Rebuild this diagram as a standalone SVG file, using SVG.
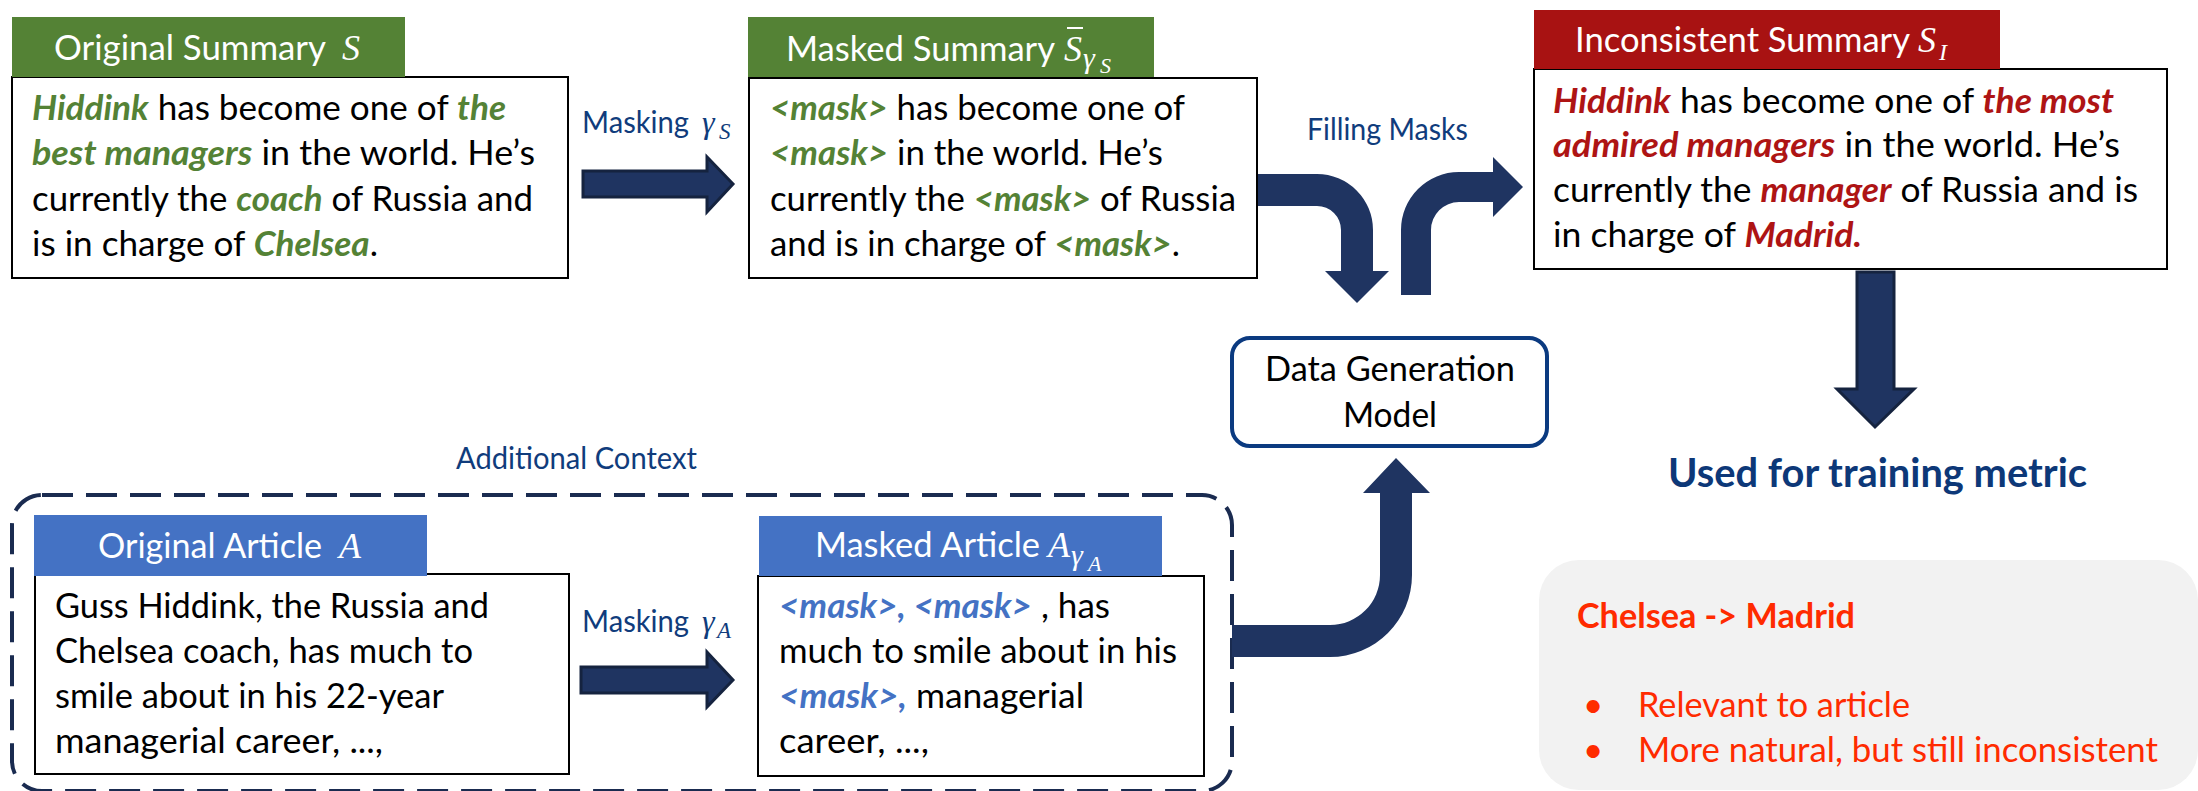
<svg xmlns="http://www.w3.org/2000/svg" width="2198" height="791" viewBox="0 0 2198 791">
<style>
.t{font-family:Lato,"Liberation Sans",sans-serif;font-size:35px;fill:#000}
.h{font-family:Lato,"Liberation Sans",sans-serif;font-size:35px;fill:#fff}
.bi{font-weight:bold;font-style:italic}
.g{fill:#548235}.r{fill:#AE1414}.bl{fill:#4472C4}
.m{font-family:"Liberation Serif","DejaVu Serif",serif;font-style:italic}
.lbl{font-family:Lato,"Liberation Sans",sans-serif;font-size:30px;fill:#103C7C}
.box{fill:#fff;stroke:#000;stroke-width:2}
.arr{fill:#1F3461;stroke:#15233F;stroke-width:3;stroke-linejoin:miter}
.carr{fill:#1F3461}
.note{font-family:Lato,"Liberation Sans",sans-serif;font-size:35px;fill:#FF2B00}
</style>
<rect width="2198" height="791" fill="#fff"/>
<g id="context">
<rect x="12" y="495" width="1220" height="296" rx="30" ry="30" fill="none" stroke="#1A2B50" stroke-width="4" stroke-dasharray="31 13"/>
<text class="lbl" x="456" y="469" textLength="241" lengthAdjust="spacingAndGlyphs">Additional Context</text>
</g>
<g id="original-summary">
<rect class="box" x="12" y="77" width="556" height="201"/>
<rect x="12" y="17" width="393" height="60" fill="#548235"/>
<text class="h" x="54" y="60" textLength="272" lengthAdjust="spacingAndGlyphs">Original Summary</text>
<text class="m" x="342" y="60" font-size="36" fill="#fff">S</text>
<text class="t" x="32" y="120" textLength="474" lengthAdjust="spacingAndGlyphs"><tspan class="bi g">Hiddink</tspan> has become one of <tspan class="bi g">the</tspan></text>
<text class="t" x="32" y="165" textLength="503" lengthAdjust="spacingAndGlyphs"><tspan class="bi g">best managers</tspan> in the world. He’s</text>
<text class="t" x="32" y="211" textLength="501" lengthAdjust="spacingAndGlyphs">currently the <tspan class="bi g">coach</tspan> of Russia and</text>
<text class="t" x="32" y="256" textLength="346" lengthAdjust="spacingAndGlyphs">is in charge of <tspan class="bi g">Chelsea</tspan>.</text>
</g>
<g id="masked-summary">
<rect class="box" x="749" y="78" width="508" height="200"/>
<rect x="748" y="17" width="406" height="60" fill="#548235"/>
<text class="h" x="786" y="61" textLength="269" lengthAdjust="spacingAndGlyphs">Masked Summary</text>
<text class="m" x="1064" y="61" font-size="36" fill="#fff">S</text>
<line x1="1067" y1="28" x2="1083" y2="28" stroke="#fff" stroke-width="2"/>
<text class="m" x="1083" y="68" font-size="30" fill="#fff">γ</text>
<text class="m" x="1100" y="73" font-size="22" fill="#fff">S</text>
<text class="t" x="770" y="120" textLength="415" lengthAdjust="spacingAndGlyphs"><tspan class="bi g">&lt;mask&gt;</tspan> has become one of</text>
<text class="t" x="770" y="165" textLength="393" lengthAdjust="spacingAndGlyphs"><tspan class="bi g">&lt;mask&gt;</tspan> in the world. He’s</text>
<text class="t" x="770" y="211" textLength="466" lengthAdjust="spacingAndGlyphs">currently the <tspan class="bi g">&lt;mask&gt;</tspan> of Russia</text>
<text class="t" x="770" y="256" textLength="410" lengthAdjust="spacingAndGlyphs">and is in charge of <tspan class="bi g">&lt;mask&gt;</tspan>.</text>
</g>
<g id="inconsistent-summary">
<rect class="box" x="1534" y="69" width="633" height="200"/>
<rect x="1534" y="10" width="466" height="59" fill="#A81212"/>
<text class="h" x="1575" y="52" textLength="335" lengthAdjust="spacingAndGlyphs">Inconsistent Summary</text>
<text class="m" x="1918" y="52" font-size="36" fill="#fff">S</text>
<text class="m" x="1939" y="60" font-size="24" fill="#fff">I</text>
<text class="t" x="1553" y="113" textLength="561" lengthAdjust="spacingAndGlyphs"><tspan class="bi r">Hiddink</tspan> has become one of <tspan class="bi r">the most</tspan></text>
<text class="t" x="1553" y="157" textLength="567" lengthAdjust="spacingAndGlyphs"><tspan class="bi r">admired managers</tspan> in the world. He’s</text>
<text class="t" x="1553" y="202" textLength="585" lengthAdjust="spacingAndGlyphs">currently the <tspan class="bi r">manager</tspan> of Russia and is</text>
<text class="t" x="1553" y="247" textLength="309" lengthAdjust="spacingAndGlyphs">in charge of <tspan class="bi r">Madrid.</tspan></text>
</g>
<g id="original-article">
<rect class="box" x="35" y="574" width="534" height="200"/>
<rect x="34" y="515" width="393" height="61" fill="#4472C4"/>
<text class="h" x="98" y="558" textLength="224" lengthAdjust="spacingAndGlyphs">Original Article</text>
<text class="m" x="339" y="558" font-size="36" fill="#fff">A</text>
<text class="t" x="55" y="618" textLength="434" lengthAdjust="spacingAndGlyphs">Guss Hiddink, the Russia and</text>
<text class="t" x="55" y="663" textLength="418" lengthAdjust="spacingAndGlyphs">Chelsea coach, has much to</text>
<text class="t" x="55" y="708" textLength="389" lengthAdjust="spacingAndGlyphs">smile about in his 22-year</text>
<text class="t" x="55" y="753" textLength="328" lengthAdjust="spacingAndGlyphs">managerial career, ...,</text>
</g>
<g id="masked-article">
<rect class="box" x="758" y="576" width="446" height="200"/>
<rect x="759" y="516" width="403" height="60" fill="#4472C4"/>
<text class="h" x="815" y="557" textLength="225" lengthAdjust="spacingAndGlyphs">Masked Article</text>
<text class="m" x="1048" y="557" font-size="36" fill="#fff">A</text>
<text class="m" x="1071" y="565" font-size="30" fill="#fff">γ</text>
<text class="m" x="1088" y="571" font-size="22" fill="#fff">A</text>
<text class="t" x="779" y="618" textLength="331" lengthAdjust="spacingAndGlyphs"><tspan class="bi bl">&lt;mask&gt;, &lt;mask&gt;</tspan> , has</text>
<text class="t" x="779" y="663" textLength="398" lengthAdjust="spacingAndGlyphs">much to smile about in his</text>
<text class="t" x="779" y="708" textLength="305" lengthAdjust="spacingAndGlyphs"><tspan class="bi bl">&lt;mask&gt;,</tspan> managerial</text>
<text class="t" x="779" y="753" textLength="150" lengthAdjust="spacingAndGlyphs">career, ...,</text>
</g>
<g id="data-generation-model">
<rect x="1232" y="338" width="315" height="108" rx="18" ry="18" fill="#fff" stroke="#0B3A80" stroke-width="4"/>
<text class="t" x="1390" y="381" text-anchor="middle" textLength="250" lengthAdjust="spacingAndGlyphs">Data Generation</text>
<text class="t" x="1390" y="427" text-anchor="middle" textLength="94" lengthAdjust="spacingAndGlyphs">Model</text>
</g>
<g id="training-metric">
<text x="1668" y="487" font-family="Lato,'Liberation Sans',sans-serif" font-size="40" font-weight="bold" fill="#0D3878" textLength="419" lengthAdjust="spacingAndGlyphs">Used for training metric</text>
</g>
<g id="note">
<rect x="1539" y="560" width="659" height="230" rx="40" ry="40" fill="#F2F2F2"/>
<text class="note" x="1577" y="628" font-weight="bold" textLength="278" lengthAdjust="spacingAndGlyphs">Chelsea -&gt; Madrid</text>
<text class="note" x="1583" y="717" font-size="28">•</text>
<text class="note" x="1638" y="717" textLength="272" lengthAdjust="spacingAndGlyphs">Relevant to article</text>
<text class="note" x="1583" y="762" font-size="28">•</text>
<text class="note" x="1638" y="762" textLength="520" lengthAdjust="spacingAndGlyphs">More natural, but still inconsistent</text>
</g>
<g id="connectors">
<path class="arr" d="M583 171 L707 171 L707 157 L733 184 L707 212 L707 197 L583 197 Z"/>
<text class="lbl" x="582" y="133" textLength="107" lengthAdjust="spacingAndGlyphs">Masking</text>
<text class="m" x="702" y="133" font-size="32" fill="#103C7C">γ</text>
<text class="m" x="719" y="139" font-size="23" fill="#103C7C">S</text>
<path class="arr" d="M581 667 L707 667 L707 652 L733 680 L707 707 L707 693 L581 693 Z"/>
<text class="lbl" x="582" y="632" textLength="107" lengthAdjust="spacingAndGlyphs">Masking</text>
<text class="m" x="702" y="632" font-size="32" fill="#103C7C">γ</text>
<text class="m" x="717" y="638" font-size="23" fill="#103C7C">A</text>
<text class="lbl" x="1307" y="140" textLength="161" lengthAdjust="spacingAndGlyphs">Filling Masks</text>
<path class="carr" d="M1258 174 L1317 174 A56 56 0 0 1 1373 230 L1373 271 L1389 271 L1357 303 L1325 271 L1341 271 L1341 230 A24 24 0 0 0 1317 206 L1258 206 Z"/>
<path class="carr" d="M1401 295 L1401 230 A58 58 0 0 1 1459 172 L1493 172 L1493 157 L1523 187 L1493 217 L1493 202 L1459 202 A28 28 0 0 0 1431 230 L1431 295 Z"/>
<path class="carr" d="M1232 625 L1330 625 A50 50 0 0 0 1380 575 L1380 493 L1363 493 L1396 458 L1430 493 L1412 493 L1412 575 A82 82 0 0 1 1330 657 L1232 657 Z"/>
<path class="arr" d="M1857 272 L1894 272 L1894 389 L1914 389 L1875 427 L1837 389 L1857 389 Z"/>
</g>
</svg>
